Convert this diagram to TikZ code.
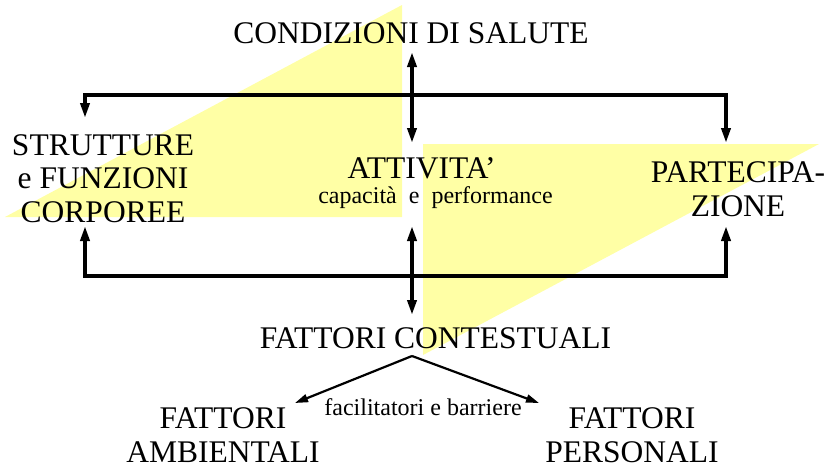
\documentclass[tikz,border=0pt]{standalone}
\usepackage{fontspec}
\setmainfont{Liberation Serif}
\usetikzlibrary{arrows.meta}
\definecolor{yel}{RGB}{255,255,165}
\tikzset{
  bigtxt/.style={font=\fontsize{31.5}{33.5}\selectfont, inner sep=0pt, anchor=base, align=center},
  smalltxt/.style={font=\fontsize{24}{26}\selectfont, inner sep=0pt, anchor=base},
  bigdbl/.style={line width=3.6pt, {Triangle[length=15pt,width=9pt]}-{Triangle[length=15pt,width=9pt]}},
  thinarr/.style={line width=2.2pt, -{Triangle[length=13pt,width=8pt]}},
}
\begin{document}
\begin{tikzpicture}[x=1pt,y=-1pt]
\path[use as bounding box] (0,0) rectangle (836,466);
\fill[yel] (5,217) -- (402,5) -- (402,217) -- cycle;
\fill[yel] (423,144) -- (819,144) -- (423,355) -- cycle;

\node[bigtxt] (cond) at (411,43) {CONDIZIONI DI SALUTE};
\node[bigtxt] (strut) at (103,222) {STRUTTURE\\e FUNZIONI\\CORPOREE};
\node[bigtxt] (attiv) at (421.5,178) {ATTIVITA’};
\node[smalltxt] (capac) at (435.5,203) {capacità~~e~~performance};
\node[bigtxt] (part) at (738,216) {PARTECIPA-\\ZIONE};
\node[bigtxt] (fatt) at (435.5,348) {FATTORI CONTESTUALI};
\node[smalltxt] (facil) at (423,415) {facilitatori e barriere};
\node[bigtxt, text depth=0pt] (amb) at (223,462) {FATTORI\\AMBIENTALI};
\node[bigtxt, text depth=0pt] (pers) at (632,462) {FATTORI\\PERSONALI};

\coordinate (sTop) at (85,118);
\coordinate (tR) at (726,95);
\coordinate (pTop) at (726,143);
\coordinate (sBot) at (85,226);
\coordinate (bR) at (726,276);
\coordinate (pBot) at (726,226);
\coordinate (c1) at (412,52);
\coordinate (c2) at (412,143);
\coordinate (c3) at (412,226);
\coordinate (c4) at (412,315);
\coordinate (apex) at (412,356);
\coordinate (ambTip) at (295,403);
\coordinate (persTip) at (539,403);

\draw[bigdbl] (sTop) |- (tR) -- (pTop);
\draw[bigdbl] (sBot) |- (bR) -- (pBot);
\draw[bigdbl] (c1) -- (c2);
\draw[bigdbl] (c3) -- (c4);
\draw[thinarr] (apex) -- (ambTip);
\draw[thinarr] (apex) -- (persTip);
\end{tikzpicture}
\end{document}
